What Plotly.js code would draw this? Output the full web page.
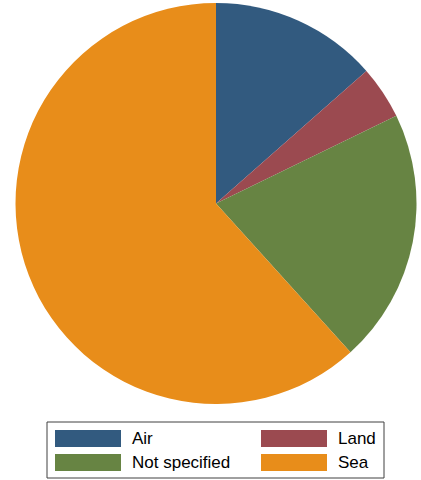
<!DOCTYPE html>
<html>
<head>
<meta charset="utf-8">
<script src="https://cdn.plot.ly/plotly-3.0.1.min.js"></script>
<style>
  html, body { margin: 0; padding: 0; background: #fff; }
  #chart { width: 421px; height: 480px; }
</style>
</head>
<body>
<div id="chart"></div>
<script>
// pie data (shares, in percent)
var labels = ['Air', 'Land', 'Not specified', 'Sea'];
var values = [13.5, 4.3, 20.5, 61.7];
var colors = ['#325a7f', '#9b4a50', '#678443', '#e88d1a'];

var W = 421, H = 480;
function px(x) { return x / W; }
function py(y) { return 1 - y / H; }

var trace = {
    type: 'pie',
    labels: labels,
    values: values,
    sort: false,
    direction: 'clockwise',
    rotation: 0,
    textinfo: 'none',
    hoverinfo: 'label+percent',
    marker: {colors: colors, line: {width: 0}},
    domain: {x: [px(15), px(417)], y: [py(404), py(3)]},
    showlegend: false
};

// legend drawn as a boxed 2x2 grid, like the original
var shapes = [{
    type: 'rect', xref: 'paper', yref: 'paper',
    x0: px(47), x1: px(384), y0: py(478), y1: py(422),
    line: {color: '#404040', width: 1}, fillcolor: 'rgba(0,0,0,0)'
}];
var annotations = [];
var colX = [55, 261];   // swatch left edge per column
var rowY = [430, 454];  // swatch top per row
for (var i = 0; i < labels.length; i++) {
    var c = i % 2, r = Math.floor(i / 2);
    shapes.push({
        type: 'rect', xref: 'paper', yref: 'paper',
        x0: px(colX[c]), x1: px(colX[c] + 66),
        y0: py(rowY[r] + 17), y1: py(rowY[r]),
        fillcolor: colors[i], line: {width: 0}
    });
    annotations.push({
        xref: 'paper', yref: 'paper',
        x: px(colX[c] + 75), y: py(rowY[r] + 8.5),
        xanchor: 'left', yanchor: 'middle',
        text: labels[i], showarrow: false,
        font: {family: '"Liberation Sans", Arial, sans-serif', size: 17, color: '#000'}
    });
}

var layout = {
    width: W, height: H,
    margin: {t: 0, r: 0, l: 0, b: 0},
    paper_bgcolor: '#fff',
    shapes: shapes,
    annotations: annotations
};

Plotly.newPlot('chart', [trace], layout, {displayModeBar: false, staticPlot: true});
</script>
</body>
</html>
